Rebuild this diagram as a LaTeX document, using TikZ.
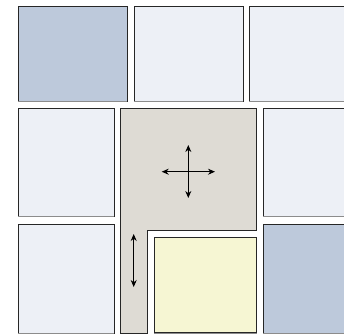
\documentclass[tikz,border=0pt]{standalone}
\usetikzlibrary{arrows.meta}

\definecolor{tileblue}{HTML}{BDC9DB}
\definecolor{tilelight}{HTML}{EDF0F6}
\definecolor{tilegray}{HTML}{DEDBD4}
\definecolor{tileyellow}{HTML}{F6F6D3}

\tikzset{
  tile/.style={draw=black!85, line width=0.8pt},
  shade line/.style={draw=black!45, line width=1.2pt},
  move/.style={{Stealth[length=7pt,width=6pt]}-{Stealth[length=7pt,width=6pt]}, line width=0.9pt}
}

\begin{document}
\begin{tikzpicture}[x=1pt,y=-1pt]
\useasboundingbox (0,0) rectangle (344,335);
\clip (0,0) rectangle (344,335);

% top row
\draw[tile,fill=tileblue]  (18,6) rectangle (127,101);
\draw[tile,fill=tilelight] (134,6) rectangle (243,101);
\draw[tile,fill=tilelight] (249,6) rectangle (352,101);

% middle row
\draw[tile,fill=tilelight] (18,108) rectangle (114,216);
\draw[tile,fill=tilelight] (263,108) rectangle (352,216);

% bottom row
\draw[tile,fill=tilelight] (18,224) rectangle (114,333);
\draw[tile,fill=tileblue]  (263,224) rectangle (352,333);

% the dragged tile and the one it makes room for
\draw[tile,fill=tilegray] (120.7,108) -- (256.7,108) -- (256.7,230)
   -- (147.7,230) -- (147.7,333) -- (120.7,333) -- cycle;
\draw[tile,fill=tileyellow] (154.3,237.3) rectangle (256.7,332.5);

% shadows under the tiles
\foreach \xa/\xb/\y in {18/127/101.6, 134/243/101.6, 249/352/101.6,
                         18/114/216.6, 263/352/216.6, 18/114/333.6, 263/352/333.6,
                         154.3/256.7/333.1}
  \draw[shade line] (\xa,\y) -- (\xb,\y);

% move handles
\coordinate (up)    at (188.3,145);
\coordinate (down)  at (188.3,198);
\coordinate (left)  at (161.7,171.7);
\coordinate (right) at (215,171.7);
\draw[move] (up) -- (down);
\draw[move] (left) -- (right);

\coordinate (top)    at (133.7,234);
\coordinate (bottom) at (133.7,287);
\draw[move] (top) -- (bottom);
\end{tikzpicture}
\end{document}
